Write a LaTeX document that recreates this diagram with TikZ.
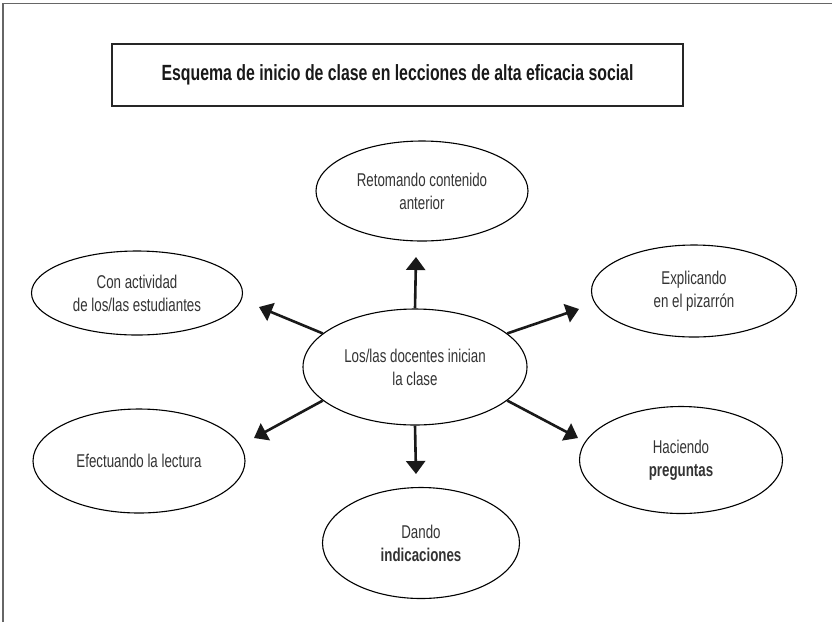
\documentclass[tikz,border=0pt]{standalone}
\usepackage{fontspec}
\setmainfont{Liberation Sans}[FakeStretch=0.72]
\usetikzlibrary{shapes.geometric,arrows.meta}
\definecolor{txt}{HTML}{333333}
\definecolor{frame}{HTML}{666666}
\tikzset{
  bub/.style={draw=black, line width=1.1pt, ellipse, inner sep=0pt, align=center,
    text=txt, font=\fontsize{18.5}{23}\selectfont},
  arr/.style={line width=2.6pt, draw=black!90, -{Triangle[width=19pt,length=13pt]}},
}
\begin{document}
\begin{tikzpicture}[x=1pt,y=-1pt]
\useasboundingbox (0,0) rectangle (832,622);
\draw[frame, line width=1.6pt] (3,622) -- (3,3.5) -- (832,3.5);
\node[draw=black!85, line width=1.5pt, minimum width=571pt, minimum height=62pt, inner sep=0pt,
  font=\bfseries\fontsize{22}{26}\selectfont, text=black!90] (title) at (397.5,75) {Esquema de inicio de clase en lecciones de alta eficacia social};
\node[bub, minimum width=224pt, minimum height=116pt] (c) at (415,367) {Los/las docentes inician\\la clase};
\node[bub, minimum width=212pt, minimum height=100pt] (up) at (422,191) {Retomando contenido\\anterior};
\node[bub, minimum width=211pt, minimum height=84pt] (ul) at (137,293) {Con actividad\\de los/las estudiantes};
\node[bub, minimum width=205pt, minimum height=92pt] (ur) at (694,291) {Explicando\\en el pizarrón};
\node[bub, minimum width=212pt, minimum height=104pt] (ll) at (139,461) {Efectuando la lectura};
\node[bub, minimum width=203pt, minimum height=107pt] (lr) at (681,460) {Haciendo\\\textbf{preguntas}};
\node[bub, minimum width=197pt, minimum height=111pt] (dn) at (421,543) {Dando\\\textbf{indicaciones}};
\coordinate (tUp) at (416,257);
\coordinate (tUL) at (259,307);
\coordinate (tUR) at (579,309);
\coordinate (tLL) at (254,438);
\coordinate (tLR) at (578,438);
\coordinate (tDn) at (416,474);
\draw[arr] (c.north) -- (tUp);
\draw[arr] (c.160) -- (tUL);
\draw[arr] (c.20) -- (tUR);
\draw[arr] (c.200) -- (tLL);
\draw[arr] (c.340) -- (tLR);
\draw[arr] (c.south) -- (tDn);
\end{tikzpicture}
\end{document}
